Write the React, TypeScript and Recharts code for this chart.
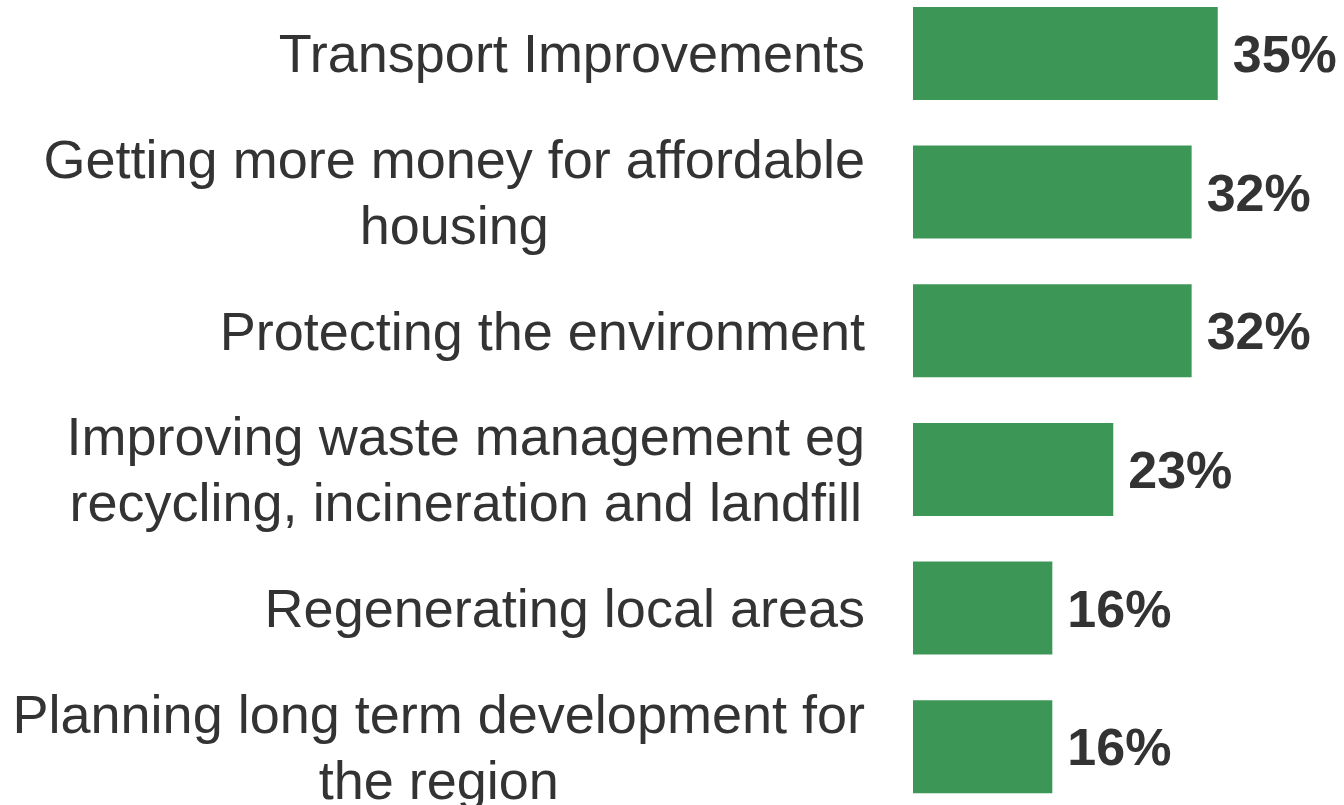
import { BarChart, Bar, XAxis, YAxis, LabelList } from 'recharts'

const categories = [
  'Transport Improvements',
  'Getting more money for affordable|housing',
  'Protecting the environment',
  'Improving waste management eg|recycling, incineration and landfill',
  'Regenerating local areas',
  'Planning long term development for|the region'
]
const values = [35, 32, 32, 23, 16, 16]

const chartData = categories.map((name, i) => ({ name, value: values[i] }))

const FONT = "'Liberation Sans', Arial, sans-serif"
const LABEL_SIZE = 54

let ctx: CanvasRenderingContext2D | null = null
const measure = (s: string) => {
  if (!ctx) ctx = document.createElement('canvas').getContext('2d')
  if (!ctx) return s.length * LABEL_SIZE * 0.5
  ctx.font = `${LABEL_SIZE}px ${FONT}`
  return ctx.measureText(s).width
}

// multi-line labels: block right-aligned to the axis, lines centered inside it
const CategoryTick = (props: any) => {
  const { x, y, payload } = props
  const lines = String(payload.value).split('|')
  const lineHeight = 66
  const right = x - 40
  const blockW = Math.max(...lines.map(measure))
  const cx = right - blockW / 2
  const startY = y - ((lines.length - 1) * lineHeight) / 2
  return (
    <text
      x={cx}
      y={startY}
      textAnchor={lines.length > 1 ? 'middle' : 'end'}
      dominantBaseline="central"
      fill="#333333"
      fontSize={LABEL_SIZE}
      fontFamily={FONT}
    >
      {lines.map((line: string, i: number) => (
        <tspan key={i} x={lines.length > 1 ? cx : right} y={startY + i * lineHeight}>{line}</tspan>
      ))}
    </text>
  )
}

export default function App() {
  return (
    <div style={{ position: 'absolute', left: 0, top: -16, width: 1344, height: 832 }}>
      <BarChart
        width={1344}
        height={832}
        data={chartData}
        layout="vertical"
        margin={{ top: 0, right: 0, left: 0, bottom: 0 }}
        barCategoryGap="16.5%"
      >
        <XAxis type="number" domain={[0, 49.5]} hide />
        <YAxis
          type="category"
          dataKey="name"
          width={913}
          axisLine={false}
          tickLine={false}
          tick={<CategoryTick />}
          interval={0}
        />
        <Bar dataKey="value" fill="#3c9756" isAnimationActive={false}>
          <LabelList
            dataKey="value"
            position="right"
            offset={15}
            formatter={(v: any) => `${v}%`}
            fill="#333333"
            fontSize={52}
            fontWeight="bold"
            fontFamily={FONT}
          />
        </Bar>
      </BarChart>
    </div>
  )
}
